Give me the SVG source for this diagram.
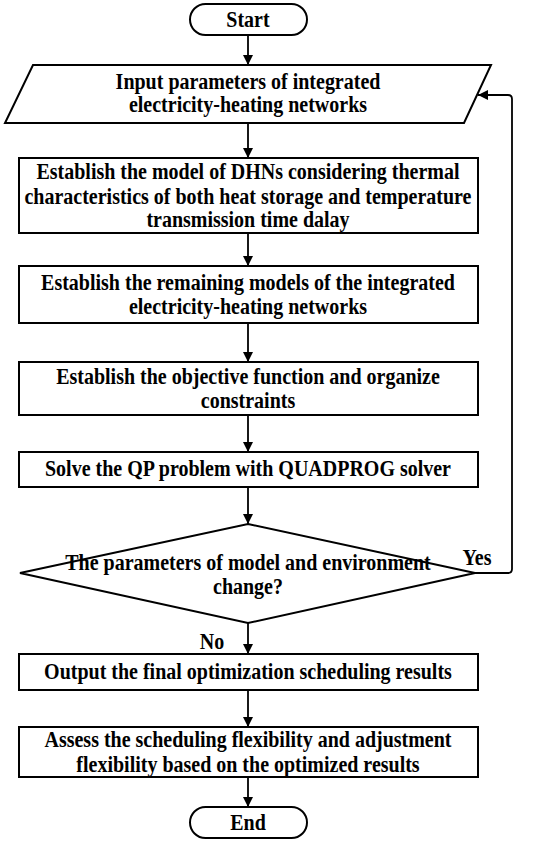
<svg xmlns="http://www.w3.org/2000/svg" width="550" height="846" viewBox="0 0 550 846">
<style>
.s{fill:#fff;stroke:#000;stroke-width:2}
.t{font-family:"Liberation Serif","Times New Roman",serif;font-weight:bold;font-size:20px;fill:#000;text-anchor:middle;dominant-baseline:central;transform-box:fill-box;transform-origin:center;transform:scaleY(1.12)}
.c{fill:none;stroke:#000;stroke-width:1.8}
</style>
<defs>
<marker id="a" viewBox="0 0 10 10" refX="10" refY="5" markerWidth="10" markerHeight="10" markerUnits="userSpaceOnUse" orient="auto">
<path d="M0,0 L10,5 L0,10 Z" fill="#000"/>
</marker>
</defs>
<rect width="550" height="846" fill="#fff"/>
<g id="connectors">
<line class="c" x1="248" y1="35" x2="248" y2="65" marker-end="url(#a)"/>
<line class="c" x1="248" y1="123" x2="248" y2="158" marker-end="url(#a)"/>
<line class="c" x1="248" y1="233" x2="248" y2="266" marker-end="url(#a)"/>
<line class="c" x1="248" y1="323" x2="248" y2="362" marker-end="url(#a)"/>
<line class="c" x1="248" y1="415" x2="248" y2="452" marker-end="url(#a)"/>
<line class="c" x1="248" y1="487" x2="248" y2="524" marker-end="url(#a)"/>
<line class="c" x1="248" y1="623" x2="248" y2="654" marker-end="url(#a)"/>
<line class="c" x1="248" y1="690" x2="248" y2="727" marker-end="url(#a)"/>
<line class="c" x1="248" y1="777" x2="248" y2="807" marker-end="url(#a)"/>
<path class="c" d="M475,573 H508 Q512,573 512,569 V99 Q512,95 508,95 H478" marker-end="url(#a)"/>
<text class="t" x="477" y="558">Yes</text>
<text class="t" x="212" y="642">No</text>
</g>
<g id="start">
<rect class="s" x="190" y="4" width="117" height="31" rx="15.5"/>
<text class="t" x="248" y="19.5">Start</text>
</g>
<g id="input">
<polygon class="s" points="33,65 491,65 464,123 5,123"/>
<text class="t" x="248" y="82">Input parameters of integrated</text>
<text class="t" x="248" y="105">electricity-heating networks</text>
</g>
<g id="dhn">
<rect class="s" x="19" y="158" width="459" height="75"/>
<text class="t" x="248" y="172">Establish the model of DHNs considering thermal</text>
<text class="t" x="248" y="196.5">characteristics of both heat storage and temperature</text>
<text class="t" x="248" y="220">transmission time dalay</text>
</g>
<g id="remaining">
<rect class="s" x="19" y="266" width="459" height="57"/>
<text class="t" x="248" y="283">Establish the remaining models of the integrated</text>
<text class="t" x="248" y="307">electricity-heating networks</text>
</g>
<g id="objective">
<rect class="s" x="19" y="362" width="459" height="53"/>
<text class="t" x="248" y="377">Establish the objective function and organize</text>
<text class="t" x="248" y="401">constraints</text>
</g>
<g id="solve">
<rect class="s" x="19" y="452" width="459" height="35"/>
<text class="t" x="248" y="469">Solve the QP problem with QUADPROG solver</text>
</g>
<g id="decision">
<polygon class="s" points="248,524 475,573 248,623 20,573"/>
<text class="t" x="248" y="563">The parameters of model and environment</text>
<text class="t" x="248" y="587">change?</text>
</g>
<g id="output">
<rect class="s" x="19" y="654" width="459" height="36"/>
<text class="t" x="248" y="672">Output the final optimization scheduling results</text>
</g>
<g id="assess">
<rect class="s" x="19" y="727" width="459" height="50"/>
<text class="t" x="248" y="740">Assess the scheduling flexibility and adjustment</text>
<text class="t" x="248" y="765">flexibility based on the optimized results</text>
</g>
<g id="end">
<rect class="s" x="190" y="807" width="117" height="31" rx="15.5"/>
<text class="t" x="248" y="822.5">End</text>
</g>
</svg>
